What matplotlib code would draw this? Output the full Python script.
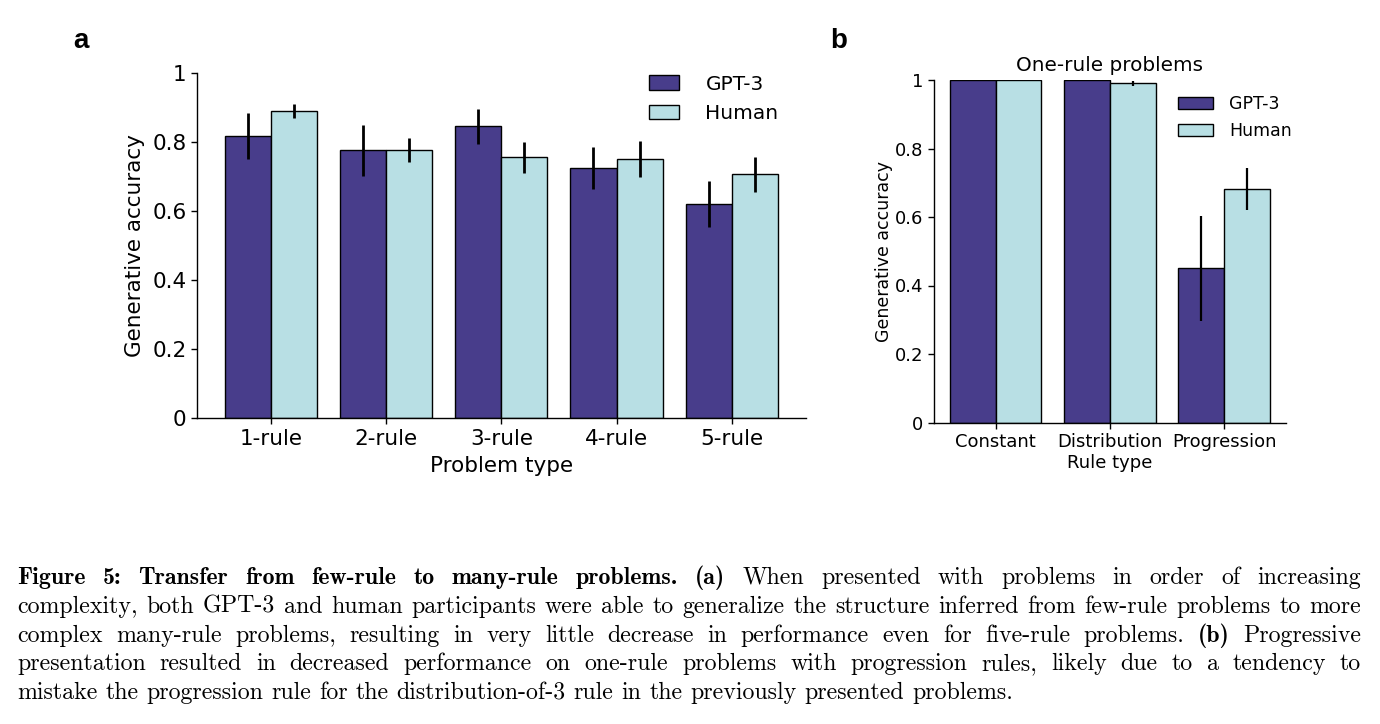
import matplotlib
matplotlib.use("Agg")
import matplotlib.pyplot as plt
from matplotlib.font_manager import FontProperties
from matplotlib.transforms import IdentityTransform
import numpy as np
import os

# ---------------- data ----------------
a_categories = ['1-rule', '2-rule', '3-rule', '4-rule', '5-rule']
gpt3_a = [0.818, 0.777, 0.846, 0.726, 0.622]
gpt3_a_lo = [0.751, 0.702, 0.796, 0.666, 0.555]
gpt3_a_hi = [0.886, 0.850, 0.896, 0.786, 0.687]
human_a = [0.892, 0.779, 0.757, 0.752, 0.708]
human_a_lo = [0.871, 0.743, 0.710, 0.700, 0.655]
human_a_hi = [0.910, 0.812, 0.802, 0.805, 0.758]

b_categories = ['Constant', 'Distribution', 'Progression']
gpt3_b = [1.0, 1.0, 0.451]
gpt3_b_lo = [1.0, 1.0, 0.296]
gpt3_b_hi = [1.0, 1.0, 0.604]
human_b = [1.0, 0.990, 0.681]
human_b_lo = [1.0, 0.982, 0.620]
human_b_hi = [1.0, 0.998, 0.742]

y_ticks = [0, 0.2, 0.4, 0.6, 0.8, 1.0]
y_ticklabels = ['0', '0.2', '0.4', '0.6', '0.8', '1']
series_names = ['GPT-3', 'Human']

caption_lines = [
    [("Figure 5: Transfer from few-rule to many-rule problems.", True), ("(a)", True),
     ("When presented with problems in order of increasing", False)],
    [("complexity, both GPT-3 and human participants were able to generalize the structure inferred from few-rule problems to more", False)],
    [("complex many-rule problems, resulting in very little decrease in performance even for five-rule problems.", False),
     ("(b)", True), ("Progressive", False)],
    [("presentation resulted in decreased performance on one-rule problems with progression rules, likely due to a tendency to", False)],
    [("mistake the progression rule for the distribution-of-3 rule in the previously presented problems.", False)],
]

# ---------------- style ----------------
C_GPT = '#483D8B'
C_HUM = '#B8DFE4'
W, H = 1380, 724
fig = plt.figure(figsize=(W / 100, H / 100), dpi=100)
plt.rcParams['font.family'] = ['DejaVu Sans']


def draw_panel(ax, cats, g, glo, ghi, h, hlo, hhi, fs, lw_err):
    x = np.arange(len(cats))
    bw = 0.4
    ax.bar(x - bw / 2, g, bw, color=C_GPT, edgecolor='black', linewidth=1.0, label=series_names[0], zorder=2)
    ax.bar(x + bw / 2, h, bw, color=C_HUM, edgecolor='black', linewidth=1.0, label=series_names[1], zorder=2)
    ax.vlines(x - bw / 2, glo, ghi, color='black', linewidth=lw_err, zorder=3)
    ax.vlines(x + bw / 2, hlo, hhi, color='black', linewidth=lw_err, zorder=3)
    ax.set_xticks(x)
    ax.set_xticklabels(cats, fontsize=fs)
    ax.set_yticks(y_ticks)
    ax.set_yticklabels(y_ticklabels, fontsize=fs)
    ax.set_ylim(0, 1)
    for s in ['top', 'right']:
        ax.spines[s].set_visible(False)
    for s in ['left', 'bottom']:
        ax.spines[s].set_linewidth(1.0)
    ax.tick_params(width=1.0, length=4)


def px_rect(l, t, r, b):
    return [l / W, 1 - b / H, (r - l) / W, (b - t) / H]


# Panel a
axa = fig.add_axes(px_rect(197, 73.3, 806, 418.5))
draw_panel(axa, a_categories, gpt3_a, gpt3_a_lo, gpt3_a_hi, human_a, human_a_lo, human_a_hi, 15.5, 2.0)
axa.set_xlim(-0.642, 4.645)
axa.set_xlabel('Problem type', fontsize=15.5, labelpad=5)
axa.set_ylabel('Generative accuracy', fontsize=15.5, labelpad=5)
axa.legend(loc='upper left', bbox_to_anchor=(641 / W, 1 - 66.5 / H), bbox_transform=fig.transFigure,
           borderaxespad=0, frameon=False, fontsize=14.5, handlelength=1.5, handletextpad=1.3)

# Panel b
axb = fig.add_axes(px_rect(934, 80, 1285.7, 422.5))
draw_panel(axb, b_categories, gpt3_b, gpt3_b_lo, gpt3_b_hi, human_b, human_b_lo, human_b_hi, 13, 1.6)
axb.set_xlim(-0.54, 2.54)
axb.set_xlabel('Rule type', fontsize=13, labelpad=2.5)
axb.set_ylabel('Generative accuracy', fontsize=12.5, labelpad=1.5)
axb.set_title('One-rule problems', fontsize=14.4, pad=6.5)
axb.legend(loc='upper left', bbox_to_anchor=(1171 / W, 1 - 88.4 / H), bbox_transform=fig.transFigure,
           borderaxespad=0, frameon=False, fontsize=12.5, handletextpad=0.95)

# Panel letters
fp_letter = FontProperties(family=['Liberation Sans', 'DejaVu Sans'], weight='bold', size=20)
fig.text(73 / W, 1 - 48.3 / H, 'a', fontproperties=fp_letter, va='baseline', ha='left')
fig.text(830 / W, 1 - 48.3 / H, 'b', fontproperties=fp_letter, va='baseline', ha='left')

# Caption (justified, Computer Modern)
ttf_dir = os.path.join(matplotlib.get_data_path(), 'fonts', 'ttf')
cap_fs = 17.2
fp_r = FontProperties(fname=os.path.join(ttf_dir, 'cmr10.ttf'), size=cap_fs)
fp_b = FontProperties(fname=os.path.join(ttf_dir, 'cmb10.ttf'), size=cap_fs)
renderer = fig.canvas.get_renderer()
x_left, x_right = 17.0, 1361.0
base0, line_step = 584.0, 28.8
for i, line in enumerate(caption_lines):
    words = []
    for seg, bold in line:
        for w in seg.split():
            words.append((w, bold))
    y = H - (base0 + i * line_step)
    texts = []
    for w, bold in words:
        t = fig.text(0, y, w, fontproperties=fp_b if bold else fp_r, transform=IdentityTransform(),
                     va='baseline', ha='left', color='black')
        texts.append(t)
    widths = [t.get_window_extent(renderer).width for t in texts]
    if i < len(caption_lines) - 1 and len(words) > 1:
        gap = (x_right - x_left - sum(widths)) / (len(words) - 1)
    else:
        gap = 6.0 * cap_fs / 13
    xx = x_left
    for t, wd in zip(texts, widths):
        t.set_x(xx)
        xx += wd + gap

fig.savefig('out.png', dpi=100)
